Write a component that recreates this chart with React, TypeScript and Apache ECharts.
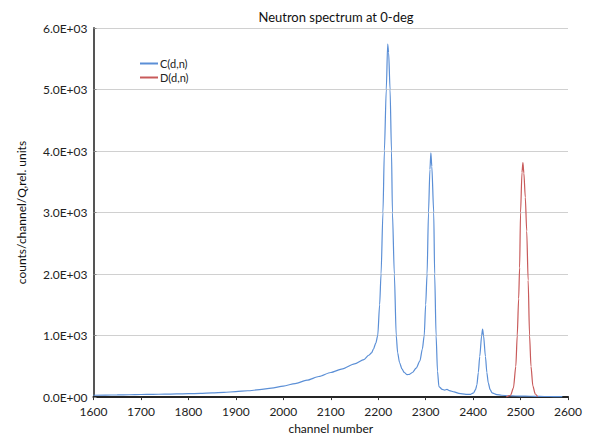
import React, { useEffect, useRef } from "react";
import * as echarts from "echarts";

const title = "Neutron spectrum at 0-deg";
const xName = "channel number";
const yName = "counts/channel/Q,rel. units";
const seriesNames = ["C(d,n)", "D(d,n)"];

const cChannels = [
  1600, 1625, 1650, 1675, 1700, 1725, 1750, 1775, 1800, 1825, 1850, 1875, 1900, 1925, 1950, 1975,
  2000, 2025, 2050, 2075, 2100, 2125, 2150, 2170, 2180, 2186, 2190, 2195, 2199, 2203, 2206, 2210,
  2213, 2217, 2220, 2222, 2225, 2228, 2230, 2234, 2238, 2241, 2245, 2250, 2255, 2261, 2266, 2272,
  2280, 2288, 2293, 2297, 2300, 2303, 2306, 2309, 2311, 2313, 2317, 2319, 2322, 2325, 2328, 2335,
  2340, 2345, 2350, 2360, 2370, 2385, 2395, 2401, 2405, 2408, 2411, 2414, 2418, 2420, 2422, 2426,
  2429, 2432, 2436, 2440, 2450, 2460, 2475, 2490, 2510, 2530, 2550, 2570, 2588,
];
const cValues = [
  30, 33, 36, 38, 42, 45, 48, 51, 55, 60, 68, 76, 90, 103, 120, 145,
  180, 220, 275, 335, 400, 460, 540, 610, 680, 720, 780, 880, 1000, 1500, 2000, 3000,
  4000, 5000, 5740, 5600, 5000, 4000, 3000, 2000, 1000, 720, 560, 460, 400, 365, 370, 400,
  470, 590, 780, 1000, 1500, 2000, 3000, 3700, 3970, 3750, 3000, 2000, 1000, 420, 170, 125,
  115, 125, 105, 85, 60, 45, 45, 68, 120, 200, 400, 660, 1000, 1105, 1000, 660,
  400, 230, 120, 68, 40, 30, 22, 18, 15, 12, 10, 9, 8,
];

const dChannels = [
  2470, 2479, 2485, 2490, 2493, 2496, 2498, 2500, 2503, 2505, 2507, 2510, 2513, 2516, 2519, 2522,
  2526, 2531, 2536,
];
const dValues = [
  0, 30, 150, 500, 1000, 1600, 2100, 3000, 3650, 3810, 3640, 3250, 2700, 1900, 1000, 500,
  180, 50, 8,
];

const xMin = 1600;
const xMax = 2600;
const xStep = 100;
const yMin = 0;
const yMax = 6000;
const yStep = 1000;

function sci(v: number): string {
  if (v === 0) return "0.0E+00";
  const e = Math.floor(Math.log10(Math.abs(v)));
  const m = v / Math.pow(10, e);
  const es = (e < 0 ? "-" : "+") + String(Math.abs(e)).padStart(2, "0");
  return m.toFixed(1) + "E" + es;
}

const FONT = "Lato, 'DejaVu Sans', sans-serif";

export default function App() {
  const ref = useRef<HTMLDivElement>(null);
  useEffect(() => {
    if (!ref.current) return;
    const chart = echarts.init(ref.current, undefined, { renderer: "svg" });
    const cData = cChannels.map((c, i) => [c, cValues[i]]);
    const dData = dChannels.map((c, i) => [c, dValues[i]]);
    chart.setOption({
      animation: false,
      backgroundColor: "#ffffff",
      textStyle: { fontFamily: FONT },
      title: {
        text: title,
        left: 331,
        textAlign: "center",
        top: 5,
        textStyle: { fontFamily: FONT, fontSize: 13, fontWeight: "normal", color: "#111" },
      },
      legend: {
        orient: "vertical",
        left: 135,
        top: 53,
        itemWidth: 18,
        itemHeight: 2,
        itemGap: 3,
        icon: "rect",
        textStyle: { fontFamily: FONT, fontSize: 11, color: "#222", padding: [0, 0, 0, -3] },
        data: seriesNames,
      },
      grid: { left: 93.5, right: 28, top: 28, bottom: 41, containLabel: false },
      xAxis: [
        {
          type: "value",
          min: xMin,
          max: xMax,
          interval: xStep,
          name: xName,
          nameLocation: "middle",
          nameGap: 22,
          nameTextStyle: { fontFamily: FONT, fontSize: 12, color: "#111" },
          axisLine: { show: true, onZero: false, lineStyle: { color: "#333", width: 2 } },
          axisTick: { show: true, inside: false, length: 3, lineStyle: { color: "#333" } },
          axisLabel: { fontFamily: FONT, fontSize: 12, color: "#222", margin: 8, formatter: (v: number) => String(v) },
          splitLine: { show: false },
        },
        {
          type: "value",
          position: "top",
          min: xMin,
          max: xMax,
          interval: xStep,
          axisLine: { show: true, lineStyle: { color: "#222", width: 1.5 } },
          axisTick: { show: false },
          axisLabel: { show: false },
          splitLine: { show: false },
        },
      ],
      yAxis: {
        type: "value",
        min: yMin,
        max: yMax,
        interval: yStep,
        name: yName,
        nameLocation: "middle",
        nameGap: 66,
        nameTextStyle: { fontFamily: FONT, fontSize: 12, color: "#111" },
        axisLine: { show: true, lineStyle: { color: "#555", width: 2 } },
        axisTick: { show: true, inside: true, length: 3, lineStyle: { color: "#888" } },
        axisLabel: { fontFamily: FONT, fontSize: 12, color: "#222", margin: 6, formatter: (v: number) => sci(v) },
        splitLine: { show: true, lineStyle: { color: "#d0d0d0", width: 1 } },
      },
      series: [
        {
          name: seriesNames[0],
          type: "line",
          data: cData,
          showSymbol: false,
          symbol: "none",
          smooth: 0.25,
          smoothMonotone: "x",
          lineStyle: { color: "#5b8fd6", width: 1.2 },
          itemStyle: { color: "#5b8fd6" },
        },
        {
          name: seriesNames[1],
          type: "line",
          data: dData,
          showSymbol: false,
          symbol: "none",
          smooth: 0.25,
          smoothMonotone: "x",
          lineStyle: { color: "#c85a5a", width: 1.2 },
          itemStyle: { color: "#c85a5a" },
        },
      ],
    });
    return () => chart.dispose();
  }, []);
  return (
    <div
      ref={ref}
      style={{ position: "fixed", left: 0, top: 0, width: 596, height: 439 }}
    />
  );
}
